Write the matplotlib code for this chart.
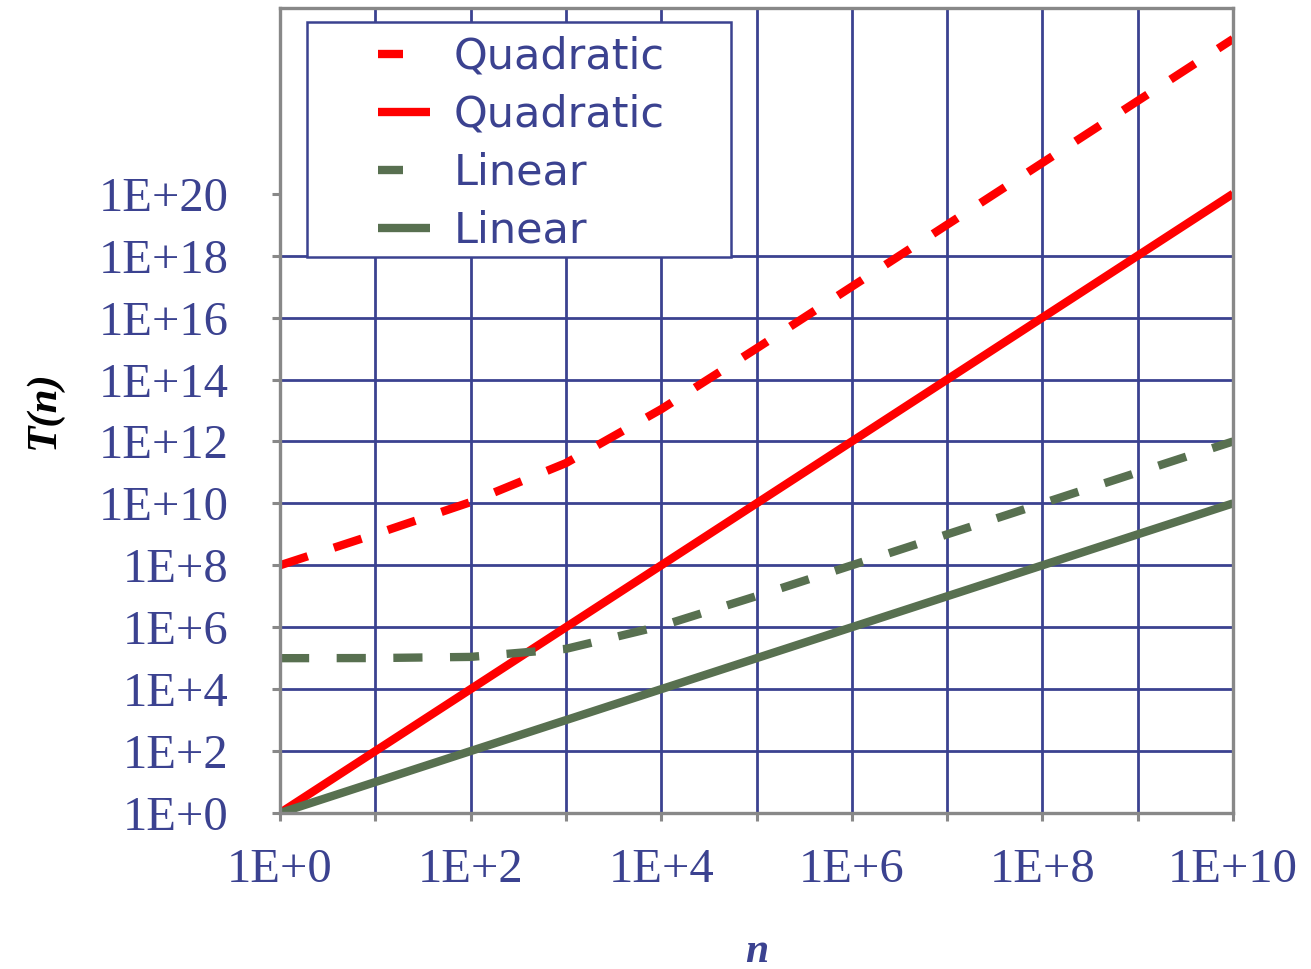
import matplotlib
matplotlib.use("Agg")
import matplotlib.pyplot as plt
from matplotlib.patches import Rectangle
from matplotlib.lines import Line2D
from matplotlib.ticker import FixedLocator, NullLocator, FixedFormatter

# ---- data (read at each decade of n) ----
n_values = [1e0, 1e1, 1e2, 1e3, 1e4, 1e5, 1e6, 1e7, 1e8, 1e9, 1e10]
quadratic_dashed = [1.001e8, 1.01e9, 1.1e10, 2e11, 1.1e13, 1.01e15, 1.001e17,
                    1.0001e19, 1e21, 1e23, 1e25]
quadratic_solid = [1e0, 1e2, 1e4, 1e6, 1e8, 1e10, 1e12, 1e14, 1e16, 1e18, 1e20]
linear_dashed = [1.001e5, 1.01e5, 1.1e5, 2e5, 1.1e6, 1.01e7, 1.0001e8,
                 1e9, 1e10, 1e11, 1e12]
linear_solid = [1e0, 1e1, 1e2, 1e3, 1e4, 1e5, 1e6, 1e7, 1e8, 1e9, 1e10]

series_labels = ["Quadratic", "Quadratic", "Linear", "Linear"]
x_tick_vals = [1e0, 1e1, 1e2, 1e3, 1e4, 1e5, 1e6, 1e7, 1e8, 1e9, 1e10]
x_tick_labels = ["1E+0", "", "1E+2", "", "1E+4", "", "1E+6", "", "1E+8", "", "1E+10"]
y_tick_vals = [1e0, 1e2, 1e4, 1e6, 1e8, 1e10, 1e12, 1e14, 1e16, 1e18, 1e20]
y_tick_labels = ["1E+0", "1E+2", "1E+4", "1E+6", "1E+8", "1E+10", "1E+12",
                 "1E+14", "1E+16", "1E+18", "1E+20"]

NAVY = "#3b4290"
GRAY = "#888888"
RED = "#ff0000"
GREEN = "#587050"

W, H = 1311, 969
fig = plt.figure(figsize=(W / 100, H / 100), dpi=100)
ax = fig.add_axes([280 / W, 1 - 813 / H, (1233 - 280) / W, (813 - 8) / H])
ax.set_xscale("log")
ax.set_yscale("log")
ax.set_xlim(1e0, 1e10)
ax.set_ylim(1e0, 1e26)

lw = 6.0
dash = (3.5, 3.3)
ax.plot(n_values, quadratic_dashed, color=RED, lw=lw, dashes=dash,
        dash_capstyle="butt", zorder=4)
ax.plot(n_values, quadratic_solid, color=RED, lw=lw,
        solid_capstyle="butt", zorder=4)
ax.plot(n_values, linear_dashed, color=GREEN, lw=lw, dashes=dash,
        dash_capstyle="butt", zorder=4)
ax.plot(n_values, linear_solid, color=GREEN, lw=lw,
        solid_capstyle="butt", zorder=4)

# ticks
ax.xaxis.set_major_locator(FixedLocator(x_tick_vals))
ax.xaxis.set_major_formatter(FixedFormatter(x_tick_labels))
ax.xaxis.set_minor_locator(NullLocator())
ax.yaxis.set_major_locator(FixedLocator(y_tick_vals))
ax.yaxis.set_major_formatter(FixedFormatter(y_tick_labels))
ax.yaxis.set_minor_locator(NullLocator())

ax.tick_params(axis="both", direction="out", length=6, width=2.2, color=GRAY,
               labelcolor=NAVY)
ax.tick_params(axis="y", pad=31)
ax.tick_params(axis="x", pad=19)
for lab in ax.get_xticklabels() + ax.get_yticklabels():
    lab.set_fontfamily("Liberation Serif")
    lab.set_fontsize(35)

# grid
ax.grid(True, which="major", color=NAVY, lw=2.0, zorder=1)
ax.set_axisbelow(True)
ax.yaxis.get_gridlines()[-1].set_visible(False)

for sp in ax.spines.values():
    sp.set_color(GRAY)
    sp.set_linewidth(2.4)
    sp.set_zorder(5)

# legend box
x0 = (307 - 280) / 953
x1 = (731 - 280) / 953
y0 = 1 - (257 - 8) / 805
y1 = 1 - (22 - 8) / 805
ax.add_patch(Rectangle((x0, y0), x1 - x0, y1 - y0, transform=ax.transAxes,
                       facecolor="white", edgecolor=NAVY, lw=1.8, zorder=3))

handles = [
    Line2D([], [], color=RED, lw=lw, dashes=(3.0, 10), dash_capstyle="butt"),
    Line2D([], [], color=RED, lw=lw, solid_capstyle="butt"),
    Line2D([], [], color=GREEN, lw=lw, dashes=(3.0, 10), dash_capstyle="butt"),
    Line2D([], [], color=GREEN, lw=lw, solid_capstyle="butt"),
]
leg = ax.legend(handles, series_labels, loc="upper left",
                bbox_to_anchor=((378 - 280) / 953, 1 - (36 - 8) / 805),
                frameon=False, borderpad=0, borderaxespad=0,
                handlelength=1.2, handletextpad=0.55, labelspacing=0.37,
                prop=dict(family="DejaVu Sans", size=31))
for t in leg.get_texts():
    t.set_color(NAVY)
leg.set_zorder(6)

# axis labels
fig.text(44 / W, 1 - 410 / H, "T(n)", rotation=90, ha="center", va="center",
         family="Liberation Serif", fontweight="bold", fontstyle="italic",
         fontsize=31, color="black")
fig.text(757 / W, 1 - 962 / H, "n", ha="center", va="baseline",
         family="Liberation Serif", fontweight="bold", fontstyle="italic",
         fontsize=30, color=NAVY)

fig.savefig("out.png", dpi=100)
